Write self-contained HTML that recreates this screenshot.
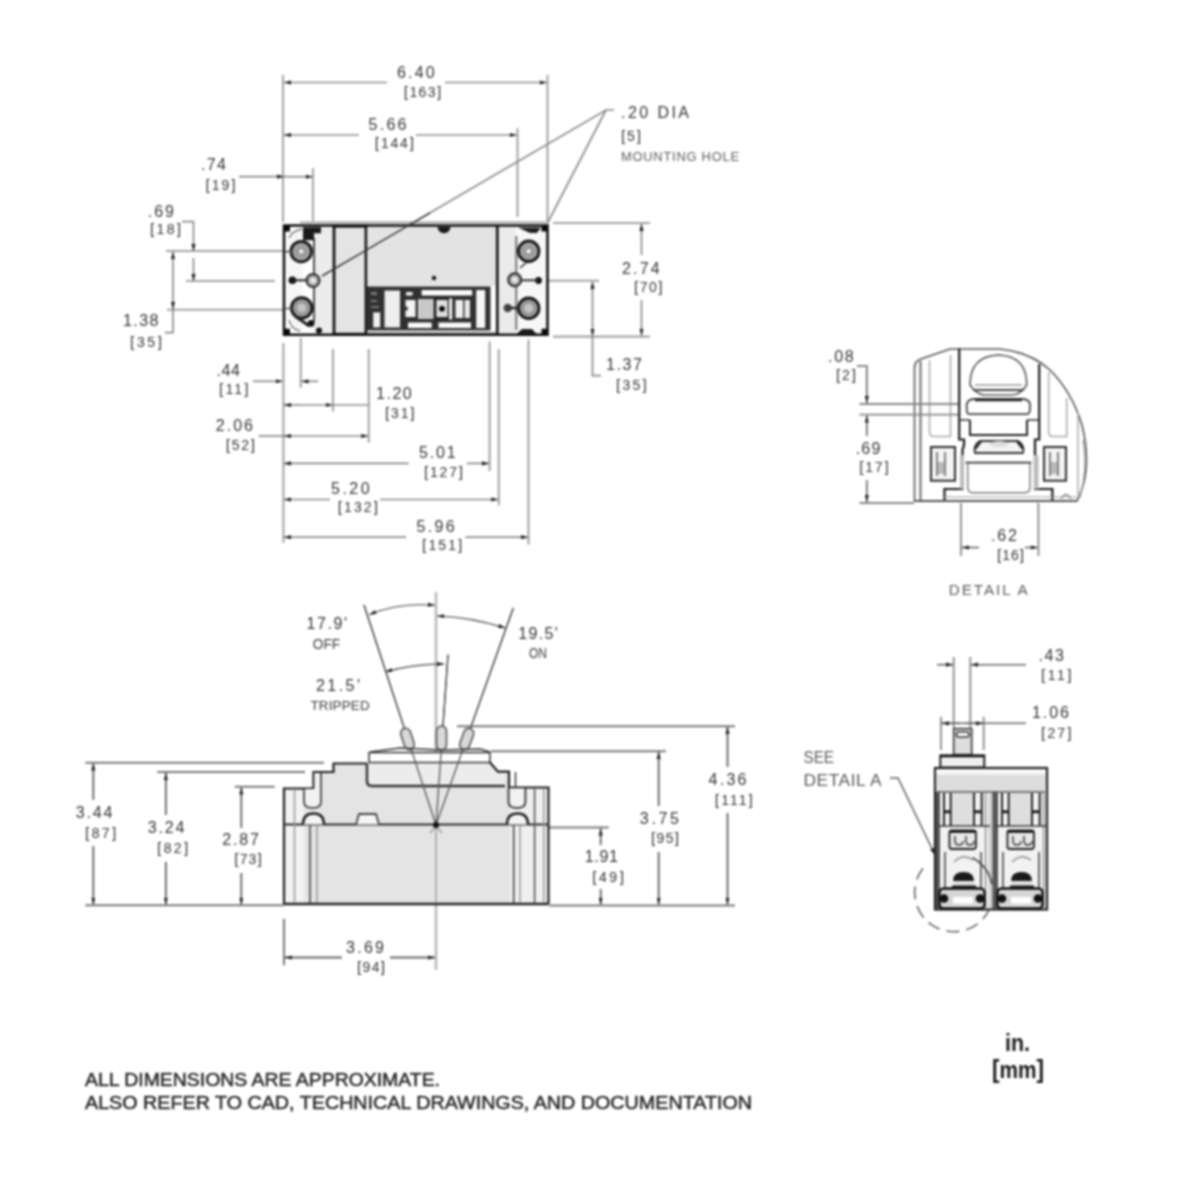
<!DOCTYPE html>
<html><head><meta charset="utf-8">
<style>
html,body{margin:0;padding:0;background:#fff;width:1200px;height:1200px;overflow:hidden}
svg{display:block;position:absolute;left:0;top:0;filter:blur(1px)}
text{font-family:"Liberation Sans",sans-serif;fill:#333}
.wd{fill:#3c3c3c}
.lt{fill:#5a5a5a}
.dl{stroke:#8c8c8c;stroke-width:1.7;fill:none}
.el{stroke:#a5a5a5;stroke-width:2.1;fill:none}
.o{stroke:#1e1e1e;stroke-width:2.2;fill:none}
.o2{stroke:#333;stroke-width:1.5;fill:none}
.g{fill:#e3e3e3}
.lg{stroke:#9a9a9a;stroke-width:1.3;fill:none}
#side .el{stroke:#7a7a7a;stroke-width:2.1}
#side .dl{stroke:#686868;stroke-width:1.9}
#endview .dl,#detailA .dl{stroke:#666;stroke-width:1.6}
#endview .el,#detailA .el{stroke:#888;stroke-width:1.8}
</style></head><body>
<svg width="1200" height="1200" viewBox="0 0 1200 1200">
<defs>
<marker id="a" markerUnits="userSpaceOnUse" viewBox="0 0 10 6" refX="10" refY="3" markerWidth="7" markerHeight="4.5" orient="auto-start-reverse"><path d="M0,0 L10,3 L0,6z" fill="#222"/></marker>
</defs>
<g id="topdims">
<!-- extension lines -->
<path class="el" d="M283,75V222 M547.5,75V222 M517.5,128V217 M313,168V221"/>
<!-- 6.40 -->
<path class="dl" d="M387,82.5H284" marker-end="url(#a)"/>
<path class="dl" d="M445,82.5H546.5" marker-end="url(#a)"/>
<!-- 5.66 -->
<path class="dl" d="M359,135H284" marker-end="url(#a)"/>
<path class="dl" d="M416,135H516.5" marker-end="url(#a)"/>
<!-- .74 -->
<path class="dl" d="M239,176.7H284" marker-end="url(#a)"/>
<path class="dl" d="M284,176.7H312.5" marker-end="url(#a)"/>
<!-- .20 DIA leaders -->
<path class="dl" d="M614,110H606L322,276 M606,110L547,224"/>
<!-- .69 / 1.38 -->
<path class="el" d="M166,251H291 M186,281H275 M167,309.7H291"/>
<path class="dl" d="M182,221.6H193.5V251" marker-end="url(#a)"/>
<path class="dl" d="M193.5,281V258" marker-start="url(#a)"/>
<path class="dl" d="M165,332.6H173V252" marker-end="url(#a)"/>
<path class="dl" d="M173,302V309" marker-end="url(#a)"/>
<!-- 2.74 / 1.37 -->
<path class="el" d="M553,223H650 M553,336.6H650 M548,280.7H599"/>
<path class="dl" d="M641.5,255V224" marker-end="url(#a)"/>
<path class="dl" d="M641.5,300V335.6" marker-end="url(#a)"/>
<path class="dl" d="M601,375.6H592.5V282" marker-end="url(#a)"/>
<path class="dl" d="M592.5,330V335.5" marker-end="url(#a)"/>
<!-- bottom ext lines -->
<path class="el" d="M283.4,343V542.7 M300.8,338V387.8 M333,349V411.6 M368.8,349V442.8 M489.6,341.5V470.9 M498.8,349V505.4 M528.5,339.6V544.6"/>
<!-- .44 -->
<path class="dl" d="M253,381.3H282.5" marker-end="url(#a)"/>
<path class="dl" d="M318,381.3H301.5" marker-end="url(#a)"/>
<!-- 1.20 -->
<path class="dl" d="M300,405H284" marker-end="url(#a)"/>
<path class="dl" d="M300,405H332.5" marker-end="url(#a)"/>
<path class="dl" d="M333,405H368.8"/>
<!-- 2.06 -->
<path class="dl" d="M258.7,436H284" />
<path class="dl" d="M320,436H284" marker-end="url(#a)"/>
<path class="dl" d="M320,436H368.3" marker-end="url(#a)"/>
<!-- 5.01 -->
<path class="dl" d="M408.7,463.4H284" marker-end="url(#a)"/>
<path class="dl" d="M467,463.4H489" marker-end="url(#a)"/>
<!-- 5.20 -->
<path class="dl" d="M330,499.5H284" marker-end="url(#a)"/>
<path class="dl" d="M380,499.5H498.3" marker-end="url(#a)"/>
<!-- 5.96 -->
<path class="dl" d="M406,537.2H284" marker-end="url(#a)"/>
<path class="dl" d="M465.3,537.2H528" marker-end="url(#a)"/>
</g>
<g id="topbody">
<path d="M300,222.4H546" stroke="#9a9a9a" stroke-width="1.8"/>
<rect x="284" y="225.5" width="263.5" height="109.5" fill="#fff"/>
<!-- left end -->
<path d="M288,236Q296,228 303,228V330H296Q289,326 288,318Z" fill="#f6f6f6"/>
<rect x="314" y="226" width="19" height="108" fill="#ececec"/>
<path d="M314,238V322" stroke="#3a3a3a" stroke-width="1.8"/>
<path d="M289,238Q292,231 302,229 M289,320Q291,329 300,331" stroke="#777" stroke-width="1.3" fill="none"/>
<!-- dark rect 333-366 -->
<rect x="334" y="226.2" width="32" height="108" fill="#e4e4e4" stroke="#151515" stroke-width="2.8"/>
<!-- main top grey -->
<rect x="367.5" y="227" width="129" height="59" fill="#e3e3e3"/>
<!-- handle window -->
<rect x="366.5" y="286.5" width="124" height="44" fill="#303030"/>
<rect x="373.2" y="312.4" width="7" height="15" fill="#f0f0f0"/>
<path d="M371,292h6v3h-6z M371,300h6v2h-6z M371,306h8v2h-8z" fill="#777"/>
<rect x="384.5" y="290.5" width="15.5" height="37" fill="#eeeeee"/>
<rect x="405.5" y="300" width="10" height="17" fill="#f4f4f4"/>
<circle cx="406" cy="308.5" r="2" fill="#333"/>
<rect x="418" y="299" width="15.5" height="20" fill="#d2d2d2"/>
<path d="M422,299V319 M426,299V319 M430,299V319" stroke="#b5b5b5" stroke-width="1.2"/>
<rect x="435.5" y="299" width="13" height="19" fill="#dedede" stroke="#111" stroke-width="1.6"/>
<circle cx="442" cy="308.8" r="2.8" fill="#000"/>
<rect x="449" y="298.5" width="3.2" height="21" fill="#f2f2f2"/>
<rect x="455.5" y="300" width="7.5" height="18" fill="#f0f0f0"/>
<rect x="464.5" y="300" width="5.5" height="18" fill="#e8e8e8"/>
<rect x="421.6" y="290" width="50.6" height="5.5" fill="#fcfcfc"/>
<rect x="406" y="292" width="6.6" height="3.5" fill="#eee"/>
<rect x="408" y="322.5" width="23.7" height="5.5" fill="#fafafa"/>
<rect x="438.5" y="322.5" width="32.5" height="5.5" fill="#fafafa"/>
<rect x="476.2" y="290" width="9" height="38" fill="#f6f6f6"/>
<rect x="367.5" y="331.5" width="129" height="3" fill="#e6e6e6"/>
<path d="M367,333H497" stroke="#666" stroke-width="1.1"/>
<!-- notch and dot -->
<path d="M437.5,227 A6.5,6.2 0 0 0 450.5,227Z" fill="#1a1a1a"/>
<circle cx="434" cy="278" r="2.3" fill="#1a1a1a"/>
<!-- right section -->
<rect x="498.5" y="226.5" width="17.5" height="107.5" fill="#ebebeb"/>
<rect x="517" y="227" width="30" height="107" fill="#f7f7f7"/>
<path d="M516.3,236V330" stroke="#666" stroke-width="1.8"/>
<path d="M497.3,225V336" stroke="#1a1a1a" stroke-width="2.8"/>
<path d="M518,227.5L530,233H537L541,227.5Z M516,334.5L522,329H532L537,334.5Z" fill="#1e1e1e"/>
<!-- outer outline -->
<path d="M284,225.5H547.5V334.8H284Z" fill="none" stroke="#121212" stroke-width="2.6"/>
<path d="M284,225.5h6v6h-6z M284,328.8h6v6h-6z M541.5,225.5h6v6h-6z M541.5,328.8h6v6h-6z" fill="#0a0a0a"/>
<!-- left holes -->
<circle cx="301.2" cy="251.6" r="10.3" fill="#a0a0a0" stroke="#161616" stroke-width="2.8"/>
<circle cx="301.2" cy="251.6" r="5" fill="#9a9a9a"/>
<circle cx="301.2" cy="251.6" r="2" fill="#fff"/>
<circle cx="301.7" cy="307.9" r="10.3" fill="#989898" stroke="#161616" stroke-width="2.8"/>
<circle cx="301.7" cy="307.9" r="4.5" fill="#c4c4c4"/>
<path d="M296,317Q304,322 309,326" stroke="#222" stroke-width="3" fill="none"/>
<circle cx="311" cy="323.4" r="3.4" fill="#111"/>
<circle cx="319" cy="330.6" r="3" fill="#111"/>
<circle cx="313" cy="280.5" r="6.5" fill="#a8a8a8" stroke="#2a2a2a" stroke-width="2"/>
<circle cx="313" cy="280.5" r="3" fill="#e8e8e8"/>
<circle cx="292.4" cy="280.3" r="3.8" fill="#111"/>
<path d="M292,280.3H306" stroke="#222" stroke-width="2"/>
<path d="M303,227.3h18v6h-7v7h-11z" fill="#1a1a1a"/>
<!-- right holes -->
<circle cx="528.7" cy="251.2" r="10.3" fill="#a0a0a0" stroke="#161616" stroke-width="2.8"/>
<circle cx="528.7" cy="251.2" r="5" fill="#9a9a9a"/>
<circle cx="528.7" cy="251.2" r="2" fill="#fff"/>
<circle cx="528.7" cy="308.3" r="10.3" fill="#989898" stroke="#161616" stroke-width="2.8"/>
<circle cx="528.7" cy="308.3" r="4.5" fill="#c4c4c4"/>
<circle cx="507.7" cy="308" r="4.2" fill="#444"/>
<path d="M507.7,308H519" stroke="#333" stroke-width="2.6"/>
<circle cx="514.7" cy="279.8" r="6.5" fill="#a8a8a8" stroke="#2a2a2a" stroke-width="2"/>
<circle cx="514.7" cy="279.8" r="3" fill="#e8e8e8"/>
<circle cx="538.5" cy="280.5" r="3.4" fill="#111"/>
<path d="M520,280.3H538" stroke="#333" stroke-width="2"/>
<path d="M520,268L527,262" stroke="#333" stroke-width="1.6"/>
<path d="M430,212.8L322,276" stroke="#3a3a3a" stroke-width="1.5"/>
<path d="M284,251.6H292 M284,308.5H292" stroke="#555" stroke-width="1.6"/>
</g>

<g id="detailA">
<!-- outline -->
<path d="M914.5,501V368Q914.5,361 921,359L950,349H1000Q1030,352 1050,370Q1072,392 1082,425Q1088,450 1086,470Q1084,488 1077,501Z" fill="#fff" stroke="#555" stroke-width="1.6"/>
<path d="M959.2,348.3V439.5H964V445L962.5,450V489H944.5V501" stroke="#1a1a1a" stroke-width="2.2" fill="none"/>
<path d="M1039.2,364V439.5H1035V489H1052.4V501" stroke="#1a1a1a" stroke-width="2.2" fill="none"/>
<path d="M920.5,361V500" stroke="#777" stroke-width="2.2"/>
<path d="M929.5,360V432Q929.5,436.5 934,436.5H950.5V355" stroke="#aaa" stroke-width="1.5" fill="none"/>
<path d="M1048.7,372V432Q1048.7,436.5 1053,436.5H1066.7V398" stroke="#aaa" stroke-width="1.5" fill="none"/>
<path d="M1078,412V495" stroke="#aaa" stroke-width="1.5"/>
<path d="M1083,440Q1088,470 1080,497" stroke="#999" stroke-width="1.2" fill="none"/>
<!-- dome -->
<path d="M970,385Q970,356 998.5,355Q1026.7,356 1026.7,385Q1020,395 1012,395H985Q977,395 970,385Z" fill="#fff" stroke="#555" stroke-width="1.6"/>
<path d="M975,385H1022" stroke="#999" stroke-width="1.4"/>
<path d="M973,390H1024" stroke="#444" stroke-width="1.8"/>
<path d="M969,414.2Q966.7,414 966.7,408V404Q968,399 975,399H1022Q1029,399 1030,404V408Q1030,414 1027,414.2Z" fill="#fff" stroke="#444" stroke-width="1.8"/>
<path d="M975,400H1022" stroke="#222" stroke-width="2.6"/>
<!-- step -->
<path d="M970,420V435H1027V420" stroke="#222" stroke-width="2" fill="none"/>
<path d="M959.2,420H970 M1027,420H1039.2" stroke="#333" stroke-width="1.6"/>
<path d="M975,453Q973,445 980,441H1018Q1025,445 1023,453Z" fill="#f4f4f4" stroke="#333" stroke-width="1.8"/>
<path d="M981,441L975,449 M1017,441L1023,449" stroke="#222" stroke-width="2.4"/>
<ellipse cx="999" cy="444" rx="10" ry="3" fill="#ddd"/>
<rect x="960" y="455" width="4" height="34" fill="#bbb"/>
<rect x="1034" y="455" width="4.5" height="34" fill="#bbb"/>
<path d="M965.5,462.7H1031.4" stroke="#333" stroke-width="1.8"/>
<path d="M967.7,462.7V487Q967.7,492.7 973,492.7H1025Q1030,492.7 1030,487V462.7" stroke="#777" stroke-width="1.4" fill="none"/>
<rect x="931" y="447" width="24" height="33.7" fill="#f4f4f4" stroke="#2a2a2a" stroke-width="2"/>
<path d="M937,452V476 M945,452V476" stroke="#666" stroke-width="1.6"/>
<rect x="938" y="462" width="6" height="12" fill="#bbb"/>
<rect x="1044" y="447" width="22" height="33.7" fill="#f4f4f4" stroke="#2a2a2a" stroke-width="2"/>
<path d="M1050,452V476 M1058,452V476" stroke="#666" stroke-width="1.6"/>
<rect x="1051" y="462" width="6" height="12" fill="#bbb"/>
<!-- base -->
<path d="M944,497H1077" stroke="#999" stroke-width="1.2"/>
<path d="M914.5,501H1077" stroke="#555" stroke-width="1.8"/>
<path d="M1061,499Q1066,490 1071,499" stroke="#888" stroke-width="1.3" fill="none"/>
<!-- dims -->
<path class="el" d="M859.5,404H958 M859.5,414.6H958 M859.5,503H914 M961,503V556 M1038.4,503V556"/>
<path class="dl" d="M857,366H866.8V403" marker-end="url(#a)"/>
<path class="dl" d="M866.8,436V415.5" marker-end="url(#a)"/>
<path class="dl" d="M866.8,480V502" marker-end="url(#a)"/>
<path class="dl" d="M979,547.5H962" marker-end="url(#a)"/>
<path class="dl" d="M1025,547.5H1037.5" marker-end="url(#a)"/>
</g>
<g id="side">
<!-- center line -->
<path d="M436,592V970" stroke="#bdbdbd" stroke-width="2.8"/>
<!-- angle lines -->
<path d="M436,825L364,605 M436,825L513.3,608 M436,825L448,654.7" stroke="#4a4a4a" stroke-width="1.3" fill="none"/>
<!-- arcs -->
<path class="dl" style="stroke-width:1.4" d="M369.3,614.7Q400,602 434.7,605.3" marker-start="url(#a)" marker-end="url(#a)"/>
<path class="dl" style="stroke-width:1.4" d="M437.3,616Q470,617 505.3,628" marker-start="url(#a)" marker-end="url(#a)"/>
<path class="dl" style="stroke-width:1.4" d="M385.3,672Q412,664 444,664" marker-start="url(#a)" marker-end="url(#a)"/>
<!-- ext lines -->
<path class="el" d="M85.3,762.7H324 M157.3,772H305 M234.7,786.7H274.7 M85.3,905.3H284 M457,726.2H735 M491,751.2H666 M549,827.5H608.7 M549,905.5H735 M284,918.7V965.3"/>
<!-- 3.44 -->
<path class="dl" d="M93.3,800V763.5" marker-end="url(#a)"/>
<path class="dl" d="M93.3,846V904.5" marker-end="url(#a)"/>
<!-- 3.24 -->
<path class="dl" d="M165.9,815V773" marker-end="url(#a)"/>
<path class="dl" d="M165.9,862V904.5" marker-end="url(#a)"/>
<!-- 2.87 -->
<path class="dl" d="M241.3,828V787.5" marker-end="url(#a)"/>
<path class="dl" d="M241.3,873V904.5" marker-end="url(#a)"/>
<!-- 4.36 -->
<path class="dl" d="M727.5,767V727" marker-end="url(#a)"/>
<path class="dl" d="M727.5,813V904.5" marker-end="url(#a)"/>
<!-- 3.75 -->
<path class="dl" d="M658.7,806V752" marker-end="url(#a)"/>
<path class="dl" d="M658.7,852V904.5" marker-end="url(#a)"/>
<!-- 1.91 -->
<path class="dl" d="M600.7,845V828.5" marker-end="url(#a)"/>
<path class="dl" d="M600.7,889V904.5" marker-end="url(#a)"/>
<!-- 3.69 -->
<path class="dl" d="M342,957.5H285" marker-end="url(#a)"/>
<path class="dl" d="M390,957.5H435" marker-end="url(#a)"/>

<!-- body fill -->
<path d="M284,904V788.5H313.5V772H333.5V763.5H369V752.5H490V762.5L498,771.7H509V787.5H548.5V904Z" fill="#e4e4e4"/>
<rect x="285" y="789.5" width="19" height="114" fill="#f3f3f3"/>
<rect x="510" y="788.5" width="38" height="115" fill="#f0f0f0"/>
<rect x="370" y="753.5" width="119" height="8.5" fill="#fff"/>
<path d="M368,763H490L498,771.7H505V786H368Z" fill="#ececec"/>
<!-- housing -->
<path class="o2" d="M369,752.5H490V762.5H369Z" stroke-width="2"/>
<path d="M367,763.5V781Q367,786 372,786H505" stroke="#333" stroke-width="2.4" fill="none"/>
<!-- outline -->
<path class="o" d="M284,904V788.5H313.5V772H333.5V763.5H367 M490,762.5L498,771.7H509V787.5H548.5V904" stroke-width="2.2"/>
<path d="M284,904H548.5" stroke="#222" stroke-width="2.6"/>
<path d="M284,824.5H548.5" stroke="#2a2a2a" stroke-width="2"/>
<!-- studs -->
<path d="M305,789H320V802Q320,807 312.5,807Q305,807 305,802Z M314.5,773H320V789H314.5Z" fill="#f2f2f2"/>
<path d="M304,789V802Q304,808 312.5,808Q321,808 321,802V773" stroke="#555" stroke-width="2" fill="none"/>
<path d="M303,824.5Q303,813.5 313.5,813.5Q324,813.5 324,824.5" stroke="#222" stroke-width="2.4" fill="#f4f4f4"/>
<path d="M509.5,788.5H524V802Q524,807 517,807Q509.5,807 509.5,802Z" fill="#f2f2f2"/>
<path d="M508.5,788V802Q508.5,808 517,808Q525.4,808 525.4,802V788" stroke="#444" stroke-width="2" fill="none"/>
<path d="M515.5,772V787" stroke="#444" stroke-width="1.6"/>
<path d="M507,824.5Q507,813.5 517.5,813.5Q528,813.5 528,824.5" stroke="#222" stroke-width="2.4" fill="#f4f4f4"/>
<!-- vertical lines in ends -->
<path d="M294.5,789V903 M317,825V903 M520,825V903 M543.8,789V903" stroke="#999" stroke-width="1.5"/>
<path d="M534.6,789V903" stroke="#555" stroke-width="1.6"/>
<path d="M310,825V903 M513.7,825V903" stroke="#444" stroke-width="1.6"/>
<!-- bump -->
<path d="M356,824.5L359,814H376L379,824.5" stroke="#444" stroke-width="1.8" fill="#f6f6f6"/>
<path d="M436,825L364,605 M436,825L513.3,608 M436,825L448,654.7" stroke="#555" stroke-width="1.3" fill="none"/>
<path d="M436,826V903" stroke="#b0b0b0" stroke-width="2"/>
<path d="M430,833L436,826L442,833" stroke="#999" stroke-width="1.2" fill="none"/>
<!-- pivot -->
<circle cx="436" cy="825" r="3" fill="#111"/>
<!-- handles -->
<g fill="#d8d8d8" stroke="#555" stroke-width="1.6">
<rect x="-5" y="-11" width="10" height="22" rx="5" transform="translate(407.5,739) rotate(-18)"/>
<rect x="-5" y="-12" width="10" height="24" rx="5" transform="translate(441.5,738)"/>
<rect x="-5" y="-11" width="10" height="22" rx="5" transform="translate(466.7,739) rotate(20)"/>
</g>
<path d="M370,752L400,748L440,750L480,749L490,752" stroke="#333" stroke-width="1.5" fill="none"/>
</g>

<g id="endview">
<!-- dims -->
<path class="el" d="M953.7,657V728 M970.3,657V728 M941,716.7V750 M983.7,716.7V750"/>
<path class="dl" d="M937,664.7H953" marker-end="url(#a)"/>
<path class="dl" d="M1026,664.7H971" marker-end="url(#a)"/>
<path class="dl" d="M941,723.3H1026"/>
<path class="dl" d="M960,723.3H942" marker-end="url(#a)"/>
<path class="dl" d="M965,723.3H983" marker-end="url(#a)"/>
<path class="dl" d="M890,778H898L935,855" marker-end="url(#a)"/>
<!-- handle -->
<rect x="953.7" y="728.7" width="18" height="26" fill="#ddd" stroke="#444" stroke-width="1.8"/>
<rect x="956.5" y="732" width="12.5" height="5" rx="2" fill="#fff" stroke="#333" stroke-width="1.6"/>
<rect x="940.3" y="755.5" width="44" height="12" fill="#f0f0f0" stroke="#222" stroke-width="2"/><path d="M940,756H985" stroke="#111" stroke-width="2.5"/>
<!-- box -->
<rect x="935" y="768" width="112" height="141.5" fill="#f2f2f2" stroke="#222" stroke-width="2.2"/>
<rect x="937" y="775" width="108" height="17" fill="#dcdcdc"/>
<path d="M936,771H1046" stroke="#fff" stroke-width="2"/>
<path d="M937,792H1045" stroke="#555" stroke-width="1.4"/>
<path d="M993,792V909" stroke="#444" stroke-width="1.6"/>
<path d="M990,792V909 M996,792V909" stroke="#aaa" stroke-width="1.2"/>
<g id="pole">
<path d="M938,792V909" stroke="#555" stroke-width="4" fill="none"/>
<rect x="952.6" y="793" width="20" height="33" fill="#dedede"/>
<path d="M944,793V826 M950.7,793V826 M974,793V826 M981.7,793V826" stroke="#222" stroke-width="2" fill="none"/>
<path d="M944,811.7H950.7 M974,811.7H981.7" stroke="#222" stroke-width="3"/>
<path d="M985.6,793V909" stroke="#888" stroke-width="1.4"/>
<path d="M938,826H990" stroke="#333" stroke-width="1.6"/>
<rect x="949.4" y="830.5" width="26.5" height="18.5" rx="2.5" fill="#e8e8e8" stroke="#1e1e1e" stroke-width="1.8"/>
<path d="M949.4,831.5H976" stroke="#111" stroke-width="2.6"/>
<path d="M955,836V841Q955,845 959,845Q963,845 963,841 M966,836V841Q966,845 970,845Q974,845 974,841" stroke="#333" stroke-width="1.4" fill="none"/>
<path d="M945,852V888 M981,852V888" stroke="#444" stroke-width="1.6"/>
<path d="M954,862Q963,853 973,860" stroke="#999" stroke-width="1.6" fill="none"/>
<path d="M953,881Q953,872 963.5,872Q974,872 974,881Z" fill="#1a1a1a"/>
<rect x="954" y="882" width="20" height="3.5" fill="#ddd"/>
<rect x="952" y="885.5" width="24" height="2.5" fill="#222"/>
<rect x="939.5" y="888.5" width="45" height="20" rx="4" fill="#d6d6d6" stroke="#111" stroke-width="2.4"/>
<rect x="953" y="897" width="20" height="6.5" fill="#fff"/>
<circle cx="944" cy="898.5" r="4.3" fill="#111"/>
<circle cx="980" cy="898.5" r="4.3" fill="#111"/>
</g>
<use href="#pole" transform="translate(58,0)"/>
<!-- dashed circle -->
<path d="M923,868.2A39.3,39.3 0 1 0 989,910.2" stroke="#666" stroke-width="1.6" fill="none" stroke-dasharray="13,7"/>
<path d="M972.5,857.7A39.3,39.3 0 0 1 992,884" stroke="#444" stroke-width="1.6" fill="none"/>
</g>

<text x="397.0" y="78.1" style="font-size:16.0px" textLength="37.7" lengthAdjust="spacing">6.40</text>
<text x="403.7" y="97.0" style="font-size:14.0px" textLength="37.6" lengthAdjust="spacing"><tspan style="font-size:15.5px">[</tspan>163<tspan style="font-size:15.5px">]</tspan></text>
<text x="368.5" y="129.9" style="font-size:16.0px" textLength="38.0" lengthAdjust="spacing">5.66</text>
<text x="374.8" y="148.2" style="font-size:14.0px" textLength="39.2" lengthAdjust="spacing"><tspan style="font-size:15.5px">[</tspan>144<tspan style="font-size:15.5px">]</tspan></text>
<text x="201.0" y="169.7" style="font-size:16.0px" textLength="25.0" lengthAdjust="spacing">.74</text>
<text x="205.5" y="190.3" style="font-size:14.0px" textLength="30.1" lengthAdjust="spacing"><tspan style="font-size:15.5px">[</tspan>19<tspan style="font-size:15.5px">]</tspan></text>
<text x="147.7" y="216.9" style="font-size:16.0px" textLength="26.3" lengthAdjust="spacing">.69</text>
<text x="150.0" y="234.3" style="font-size:14.0px" textLength="31.0" lengthAdjust="spacing"><tspan style="font-size:15.5px">[</tspan>18<tspan style="font-size:15.5px">]</tspan></text>
<text x="123.0" y="326.4" style="font-size:16.0px" textLength="35.5" lengthAdjust="spacing">1.38</text>
<text x="130.0" y="346.5" style="font-size:14.0px" textLength="32.0" lengthAdjust="spacing"><tspan style="font-size:15.5px">[</tspan>35<tspan style="font-size:15.5px">]</tspan></text>
<text x="621.0" y="118.4" style="font-size:16.0px" textLength="68.0" lengthAdjust="spacing">.20 DIA</text>
<text x="621.0" y="140.5" style="font-size:14.0px" textLength="20.0" lengthAdjust="spacing"><tspan style="font-size:15.5px">[</tspan>5<tspan style="font-size:15.5px">]</tspan></text>
<text class="wd lt" x="621.0" y="161.4" style="font-size:12.9px" textLength="118.0" lengthAdjust="spacing">MOUNTING HOLE</text>
<text x="622.0" y="273.9" style="font-size:16.0px" textLength="37.7" lengthAdjust="spacing">2.74</text>
<text x="634.0" y="292.0" style="font-size:14.0px" textLength="28.5" lengthAdjust="spacing"><tspan style="font-size:15.5px">[</tspan>70<tspan style="font-size:15.5px">]</tspan></text>
<text x="606.0" y="369.8" style="font-size:16.0px" textLength="36.0" lengthAdjust="spacing">1.37</text>
<text x="615.9" y="389.7" style="font-size:14.0px" textLength="31.0" lengthAdjust="spacing"><tspan style="font-size:15.5px">[</tspan>35<tspan style="font-size:15.5px">]</tspan></text>
<text x="216.6" y="375.6" style="font-size:16.0px" textLength="23.4" lengthAdjust="spacing">.44</text>
<text x="219.0" y="394.4" style="font-size:14.0px" textLength="29.5" lengthAdjust="spacing"><tspan style="font-size:15.5px">[</tspan>11<tspan style="font-size:15.5px">]</tspan></text>
<text x="376.0" y="399.4" style="font-size:16.0px" textLength="35.7" lengthAdjust="spacing">1.20</text>
<text x="385.0" y="418.3" style="font-size:14.0px" textLength="29.6" lengthAdjust="spacing"><tspan style="font-size:15.5px">[</tspan>31<tspan style="font-size:15.5px">]</tspan></text>
<text x="215.7" y="430.9" style="font-size:16.0px" textLength="37.3" lengthAdjust="spacing">2.06</text>
<text x="225.8" y="449.9" style="font-size:14.0px" textLength="29.2" lengthAdjust="spacing"><tspan style="font-size:15.5px">[</tspan>52<tspan style="font-size:15.5px">]</tspan></text>
<text x="419.0" y="457.7" style="font-size:16.0px" textLength="36.7" lengthAdjust="spacing">5.01</text>
<text x="424.0" y="476.7" style="font-size:14.0px" textLength="39.0" lengthAdjust="spacing"><tspan style="font-size:15.5px">[</tspan>127<tspan style="font-size:15.5px">]</tspan></text>
<text x="331.0" y="493.6" style="font-size:16.0px" textLength="38.6" lengthAdjust="spacing">5.20</text>
<text x="337.7" y="512.3" style="font-size:14.0px" textLength="40.3" lengthAdjust="spacing"><tspan style="font-size:15.5px">[</tspan>132<tspan style="font-size:15.5px">]</tspan></text>
<text x="416.5" y="531.5" style="font-size:16.0px" textLength="38.2" lengthAdjust="spacing">5.96</text>
<text x="422.0" y="549.6" style="font-size:14.0px" textLength="40.4" lengthAdjust="spacing"><tspan style="font-size:15.5px">[</tspan>151<tspan style="font-size:15.5px">]</tspan></text>
<text x="828.0" y="361.9" style="font-size:16.0px" textLength="25.7" lengthAdjust="spacing">.08</text>
<text x="836.0" y="379.8" style="font-size:14.0px" textLength="20.0" lengthAdjust="spacing"><tspan style="font-size:15.5px">[</tspan>2<tspan style="font-size:15.5px">]</tspan></text>
<text x="855.7" y="453.8" style="font-size:16.0px" textLength="24.6" lengthAdjust="spacing">.69</text>
<text x="859.3" y="472.2" style="font-size:14.0px" textLength="29.4" lengthAdjust="spacing"><tspan style="font-size:15.5px">[</tspan>17<tspan style="font-size:15.5px">]</tspan></text>
<text x="991.0" y="541.2" style="font-size:16.0px" textLength="25.8" lengthAdjust="spacing">.62</text>
<text x="997.0" y="559.9" style="font-size:14.0px" textLength="27.0" lengthAdjust="spacing"><tspan style="font-size:15.5px">[</tspan>16<tspan style="font-size:15.5px">]</tspan></text>
<text class="wd lt" x="948.7" y="594.6" style="font-size:15.2px" textLength="79.0" lengthAdjust="spacing">DETAIL A</text>
<text x="306.5" y="628.9" style="font-size:16.0px" textLength="40.5" lengthAdjust="spacing">17.9'</text>
<text class="wd" x="312.8" y="648.8" style="font-size:14.0px" textLength="27.2" lengthAdjust="spacingAndGlyphs">OFF</text>
<text x="518.3" y="638.6" style="font-size:16.0px" textLength="39.4" lengthAdjust="spacing">19.5'</text>
<text class="wd" x="529.0" y="657.6" style="font-size:13.8px" textLength="18.0" lengthAdjust="spacingAndGlyphs">ON</text>
<text x="316.0" y="690.9" style="font-size:16.0px" textLength="44.0" lengthAdjust="spacing">21.5'</text>
<text class="wd" x="310.4" y="710.2" style="font-size:13.5px" textLength="59.3" lengthAdjust="spacing">TRIPPED</text>
<text x="75.7" y="817.9" style="font-size:16.0px" textLength="36.6" lengthAdjust="spacing">3.44</text>
<text x="85.0" y="838.0" style="font-size:14.0px" textLength="31.3" lengthAdjust="spacing"><tspan style="font-size:15.5px">[</tspan>87<tspan style="font-size:15.5px">]</tspan></text>
<text x="147.7" y="832.5" style="font-size:16.0px" textLength="36.6" lengthAdjust="spacing">3.24</text>
<text x="157.0" y="852.6" style="font-size:14.0px" textLength="31.3" lengthAdjust="spacing"><tspan style="font-size:15.5px">[</tspan>82<tspan style="font-size:15.5px">]</tspan></text>
<text x="222.3" y="844.5" style="font-size:16.0px" textLength="36.7" lengthAdjust="spacing">2.87</text>
<text x="234.3" y="864.0" style="font-size:14.0px" textLength="27.4" lengthAdjust="spacing"><tspan style="font-size:15.5px">[</tspan>73<tspan style="font-size:15.5px">]</tspan></text>
<text x="708.5" y="785.3" style="font-size:16.0px" textLength="38.0" lengthAdjust="spacing">4.36</text>
<text x="714.8" y="804.6" style="font-size:14.0px" textLength="38.0" lengthAdjust="spacing"><tspan style="font-size:15.5px">[</tspan>111<tspan style="font-size:15.5px">]</tspan></text>
<text x="639.8" y="824.0" style="font-size:16.0px" textLength="39.2" lengthAdjust="spacing">3.75</text>
<text x="651.0" y="842.7" style="font-size:14.0px" textLength="28.0" lengthAdjust="spacing"><tspan style="font-size:15.5px">[</tspan>95<tspan style="font-size:15.5px">]</tspan></text>
<text x="584.8" y="862.1" style="font-size:16.0px" textLength="33.0" lengthAdjust="spacing">1.91</text>
<text x="592.2" y="882.1" style="font-size:14.0px" textLength="31.8" lengthAdjust="spacing"><tspan style="font-size:15.5px">[</tspan>49<tspan style="font-size:15.5px">]</tspan></text>
<text x="346.0" y="952.8" style="font-size:16.0px" textLength="38.0" lengthAdjust="spacing">3.69</text>
<text x="357.0" y="972.0" style="font-size:14.0px" textLength="28.0" lengthAdjust="spacing"><tspan style="font-size:15.5px">[</tspan>94<tspan style="font-size:15.5px">]</tspan></text>
<text x="1038.5" y="660.9" style="font-size:16.0px" textLength="25.5" lengthAdjust="spacing">.43</text>
<text x="1041.0" y="680.2" style="font-size:14.0px" textLength="30.5" lengthAdjust="spacing"><tspan style="font-size:15.5px">[</tspan>11<tspan style="font-size:15.5px">]</tspan></text>
<text x="1032.0" y="718.4" style="font-size:16.0px" textLength="37.0" lengthAdjust="spacing">1.06</text>
<text x="1041.0" y="737.7" style="font-size:14.0px" textLength="30.5" lengthAdjust="spacing"><tspan style="font-size:15.5px">[</tspan>27<tspan style="font-size:15.5px">]</tspan></text>
<text class="wd lt" x="803.5" y="762.8" style="font-size:16.1px" textLength="30.5" lengthAdjust="spacingAndGlyphs">SEE</text>
<text class="wd lt" x="803.5" y="786.2" style="font-size:17.4px" textLength="78.0" lengthAdjust="spacing">DETAIL A</text>
<text x="85" y="1085.5" style="font-size:18px;fill:#2a2a2a;stroke:#2a2a2a;stroke-width:0.5px" textLength="355" lengthAdjust="spacingAndGlyphs">ALL DIMENSIONS ARE APPROXIMATE.</text>
<text x="85" y="1109" style="font-size:18px;fill:#2a2a2a;stroke:#2a2a2a;stroke-width:0.5px" textLength="667" lengthAdjust="spacingAndGlyphs">ALSO REFER TO CAD, TECHNICAL DRAWINGS, AND DOCUMENTATION</text>
<text x="1005" y="1050.5" style="font-size:23px;fill:#1a1a1a;font-weight:bold" textLength="25" lengthAdjust="spacingAndGlyphs">in.</text>
<text x="992" y="1077.5" style="font-size:23px;fill:#1a1a1a;font-weight:bold" textLength="52" lengthAdjust="spacingAndGlyphs"><tspan style="font-size:25px">[</tspan>mm<tspan style="font-size:25px">]</tspan></text>
</svg>
</body></html>
